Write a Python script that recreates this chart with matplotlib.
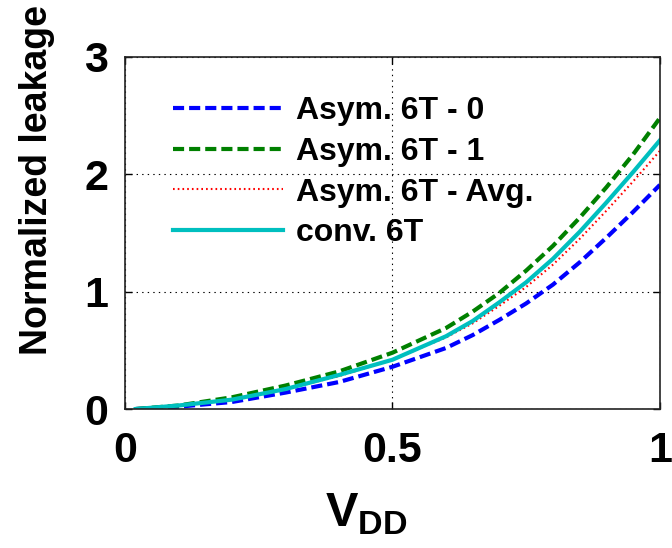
import numpy as np
import matplotlib.pyplot as plt

plt.rcParams['font.family'] = ['Liberation Sans', 'DejaVu Sans']
plt.rcParams['font.weight'] = 'bold'
plt.rcParams['mathtext.fontset'] = 'custom'
plt.rcParams['mathtext.bf'] = 'Liberation Sans:bold'
plt.rcParams['mathtext.rm'] = 'Liberation Sans:bold'
plt.rcParams['lines.scale_dashes'] = False

# values
vdd = [0.02, 0.1, 0.2, 0.3, 0.4, 0.5, 0.6, 0.65, 0.7, 0.75, 0.8, 0.85, 0.9, 0.95, 1.0]
asym0 = [0.0, 0.02, 0.06, 0.14, 0.23, 0.36, 0.52, 0.63, 0.76, 0.90, 1.06, 1.25, 1.46, 1.68, 1.91]
asym1 = [0.0, 0.03, 0.10, 0.20, 0.32, 0.48, 0.69, 0.83, 0.99, 1.18, 1.39, 1.63, 1.89, 2.17, 2.48]
asym_avg = [0.0, 0.025, 0.08, 0.17, 0.28, 0.42, 0.61, 0.73, 0.88, 1.04, 1.23, 1.45, 1.69, 1.94, 2.20]
conv = [0.0, 0.03, 0.08, 0.17, 0.29, 0.42, 0.62, 0.75, 0.91, 1.08, 1.28, 1.51, 1.76, 2.02, 2.29]

labels = ['Asym. 6T - 0', 'Asym. 6T - 1', 'Asym. 6T - Avg.', 'conv. 6T']
xticks = [0, 0.5, 1]
yticks = [0, 1, 2, 3]

fig = plt.figure(figsize=(6.72, 5.48), dpi=100)
ax = fig.add_axes([0.186, 0.2536, 0.796, 0.6424])

ax.plot(vdd, asym0, color='#0000ff', lw=3, dashes=(8, 3.6), label=labels[0])
ax.plot(vdd, asym1, color='#008000', lw=3, dashes=(8, 3.6), label=labels[1])
ax.plot(vdd, asym_avg, color='#ff0000', lw=1.5, dashes=(1.2, 2.2), label=labels[2])
ax.plot(vdd, conv, color='#00bfbf', lw=3, label=labels[3])

ax.set_xlim(0, 1)
ax.set_ylim(0, 3)
ax.set_xticks(xticks)
ax.set_xticklabels(['0', '0.5', '1'])
ax.set_yticks(yticks)
ax.grid(True, color='black', linestyle=(0, (1, 3)), linewidth=0.8)
ax.tick_params(direction='in', length=5, width=1, top=True, right=True,
               labelsize=31)
ax.tick_params(axis='x', pad=16)
ax.tick_params(axis='y', pad=12)
for s in ax.spines.values():
    s.set_linewidth(1.2)
    s.set_color('#222222')

leg = ax.legend(loc='upper left', bbox_to_anchor=(0.06, 0.935), frameon=False,
                fontsize=23, handlelength=3.45, handletextpad=0.4,
                labelspacing=0.34, borderpad=0)

fig.text(37 / 672, 1 - 180 / 548, 'Normalized leakage', rotation=90,
         ha='center', va='center', fontsize=27, fontweight='bold')
fig.text(366 / 672, 1 - 514 / 548, r'$\mathbf{V}_{\mathbf{DD}}$',
         ha='center', va='center', fontsize=35)

fig.savefig('out.png', dpi=100)
